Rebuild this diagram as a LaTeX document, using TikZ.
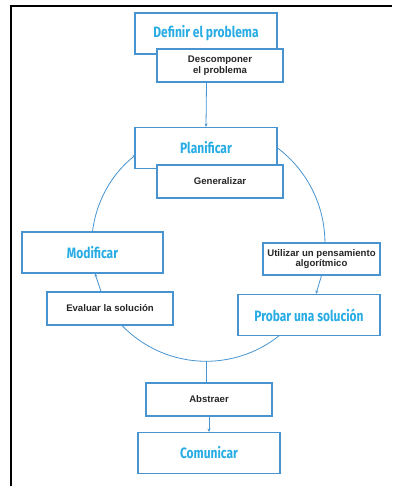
\documentclass[tikz,border=0pt]{standalone}
\usepackage{fontspec}
\setmainfont{Liberation Sans}
\newfontfamily\titlefont[FakeStretch=0.8]{Fira Sans}
\usetikzlibrary{arrows.meta,backgrounds}
\definecolor{boxblue}{RGB}{72,148,208}
\definecolor{textblue}{RGB}{40,172,228}

\begin{document}
\begin{tikzpicture}[
    x=1pt, y=1pt,
    bigbox/.style={draw=boxblue, line width=1.1pt, fill=white, minimum width=142pt,
        minimum height=41pt, text=textblue, font=\titlefont\bfseries\fontsize{15}{18}\selectfont},
    smallbox/.style={draw=boxblue, line width=1.1pt, fill=white, minimum width=126pt,
        minimum height=33pt, align=center, text=black!85, font=\bfseries\fontsize{9.6}{10.5}\selectfont},
    flow/.style={draw=boxblue, line width=0.8pt},
    tip/.style={-{Stealth[length=3.5pt,width=3pt]}}
]
    \useasboundingbox (0,0) rectangle (392,-486);

    % ==========================
    % FRAME
    % ==========================
    \draw[line width=1.8pt] (11,-486) -- (11,-6) -- (392,-6);

    % ==========================
    % TOP: define and plan
    % ==========================
    \node[bigbox] (definir) at (206,-33.5) {Definir el problema};
    \node[smallbox] (descomponer) at (220,-65.5) {Descomponer\\el problema};

    \node[bigbox] (planificar) at (206,-148) {Planificar};
    \node[smallbox] (generalizar) at (220,-181.5) {Generalizar};

    % ==========================
    % THE CYCLE
    % ==========================
    \node[bigbox, minimum width=141pt] (modificar) at (92.5,-252.5) {Modificar};
    \node[smallbox] (evaluar) at (110,-308.5) {Evaluar la soluci\'on};

    \node[smallbox, minimum width=117pt, minimum height=32pt] (utilizar) at (321.5,-259)
        {Utilizar un pensamiento\\algor\'itmico};
    \node[bigbox] (probar) at (309,-315) {Probar una soluci\'on};

    % ==========================
    % BOTTOM: abstract and share
    % ==========================
    \node[smallbox] (abstraer) at (209,-399.5) {Abstraer};
    \node[bigbox] (comunicar) at (209,-453) {Comunicar};

    % connectors
    \draw[flow, tip] (descomponer.south -| definir.south) ++(0.5,0) -- (planificar.north);
    \draw[flow, tip] (utilizar.south) -- ([xshift=7pt]probar.north);
    \draw[flow, tip] ([xshift=-9pt]evaluar.north) -- ([xshift=2.5pt]modificar.south);
    \draw[flow, tip] (abstraer.south) -- (comunicar.north);

    % arcs of the circle (behind the boxes)
    \begin{pgfonlayer}{background}
        \draw[flow] (planificar.east) arc[start angle=53, end angle=0, radius=119];
        \draw[flow, tip] (modificar.north) arc[start angle=173, end angle=128, radius=115];
        \draw[flow] ([xshift=12pt]evaluar.south)
            arc[start angle=224, end angle=270, radius=117] coordinate (low)
            arc[start angle=270, end angle=311, radius=117];
        \draw[flow] (low) -- (low |- abstraer.north);
    \end{pgfonlayer}

\end{tikzpicture}
\end{document}
